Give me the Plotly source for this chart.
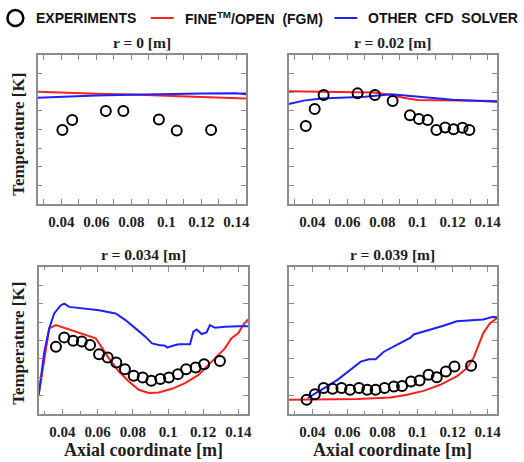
import plotly.graph_objects as go

# ---------------- data (temperature in arbitrary tick units, 8 divisions) ----------------
x_label_start = 0.04
x_label_step = 0.02
x_minor_step = 0.01
y_tick_vals = [0, 1, 2, 3, 4, 5, 6, 7, 8]

panel_titles = ["r = 0 [m]", "r = 0.02 [m]", "r = 0.034 [m]", "r = 0.039 [m]"]

# r = 0
exp0_x = [0.0406, 0.0462, 0.0654, 0.0754, 0.0957, 0.1059, 0.1255]
exp0_y = [3.97, 4.51, 4.99, 4.99, 4.54, 3.94, 3.97]
fgm0_x = [0.0265, 0.04, 0.06, 0.08, 0.10, 0.12, 0.1455]
fgm0_y = [6.03, 5.98, 5.92, 5.88, 5.80, 5.74, 5.67]
cfd0_x = [0.0265, 0.04, 0.06, 0.08, 0.10, 0.12, 0.14, 0.1455]
cfd0_y = [5.71, 5.76, 5.82, 5.86, 5.90, 5.93, 5.94, 5.89]

# r = 0.02
exp1_x = [0.0362, 0.0413, 0.0464, 0.0658, 0.0757, 0.0858, 0.0957, 0.1008, 0.1058,
          0.1108, 0.1158, 0.1206, 0.1257, 0.1296]
exp1_y = [4.19, 5.10, 5.85, 5.94, 5.85, 5.53, 4.76, 4.56, 4.51, 3.97, 4.11, 4.01, 4.10, 3.97]
fgm1_x = [0.0265, 0.04, 0.06, 0.075, 0.085, 0.092, 0.10, 0.12, 0.1455]
fgm1_y = [6.06, 6.05, 6.02, 5.99, 5.85, 5.70, 5.58, 5.55, 5.53]
cfd1_x = [0.0265, 0.035, 0.045, 0.06, 0.07, 0.085, 0.10, 0.12, 0.1455]
cfd1_y = [5.37, 5.55, 5.67, 5.72, 5.76, 5.89, 5.75, 5.60, 5.49]

# r = 0.034
exp2_x = [0.0363, 0.0410, 0.0461, 0.0510, 0.0557, 0.0608, 0.0657, 0.0706, 0.0755, 0.0805,
          0.0856, 0.0905, 0.0956, 0.1005, 0.1056, 0.1103, 0.1157, 0.1205, 0.1295]
exp2_y = [3.66, 4.17, 3.99, 3.94, 3.75, 3.25, 3.07, 2.80, 2.44, 2.08,
          1.99, 1.81, 1.90, 1.99, 2.17, 2.44, 2.53, 2.71, 2.89]
fgm2_x = [0.0265, 0.0325, 0.0363, 0.042, 0.0514, 0.0589, 0.0627, 0.0664, 0.0721, 0.0777,
          0.0834, 0.089, 0.0947, 0.1022, 0.1097, 0.1173, 0.1248, 0.1323, 0.1361, 0.1399,
          0.1427, 0.1455]
fgm2_y = [1.05, 4.66, 4.84, 4.66, 4.39, 4.12, 3.57, 3.03, 2.31, 1.77,
          1.32, 1.14, 1.17, 1.37, 1.68, 2.13, 2.85, 3.57, 4.12, 4.39,
          4.84, 5.16]
cfd2_x = [0.0265, 0.0297, 0.0325, 0.0353, 0.0391, 0.0410, 0.0438, 0.0514, 0.0608, 0.0702,
          0.0758, 0.0815, 0.0871, 0.0909, 0.0947, 0.0984, 0.0994, 0.1022, 0.1060, 0.1125,
          0.1144, 0.1163, 0.1191, 0.1219, 0.1238, 0.1267, 0.1323, 0.1399, 0.1455]
cfd2_y = [1.05, 3.39, 4.66, 5.47, 5.92, 6.01, 5.83, 5.74, 5.65, 5.47,
          5.11, 4.66, 4.21, 3.84, 3.75, 3.72, 3.61, 3.70, 3.79, 3.79,
          4.48, 4.60, 4.35, 4.44, 4.84, 4.69, 4.75, 4.78, 4.78]

# r = 0.039
exp3_x = [0.0367, 0.0414, 0.0464, 0.0515, 0.0566, 0.0615, 0.0666, 0.0713, 0.0761, 0.0812,
          0.0865, 0.0912, 0.0963, 0.1012, 0.1063, 0.1110, 0.1162, 0.1211, 0.1306]
exp3_y = [0.78, 1.08, 1.41, 1.37, 1.41, 1.32, 1.41, 1.32, 1.32, 1.41,
          1.50, 1.53, 1.77, 1.82, 2.13, 2.00, 2.31, 2.58, 2.62]
fgm3_x = [0.0265, 0.0657, 0.0846, 0.094, 0.1035, 0.113, 0.1224, 0.1281, 0.1319, 0.1347,
          0.1375, 0.1413, 0.1455]
fgm3_y = [0.78, 0.81, 0.90, 1.05, 1.26, 1.59, 2.04, 2.49, 3.03, 3.75,
          4.39, 4.93, 5.23]
cfd3_x = [0.0373, 0.0411, 0.0467, 0.0543, 0.0619, 0.0676, 0.0723, 0.0761, 0.0808, 0.0884,
          0.0960, 0.0978, 0.1073, 0.1148, 0.1224, 0.1299, 0.1375, 0.1432, 0.1455]
cfd3_y = [0.87, 1.08, 1.41, 1.86, 2.40, 2.85, 2.98, 2.98, 3.39, 3.79,
          4.15, 4.33, 4.57, 4.80, 5.05, 5.11, 5.14, 5.29, 5.25]

panels = [
    (exp0_x, exp0_y, fgm0_x, fgm0_y, cfd0_x, cfd0_y),
    (exp1_x, exp1_y, fgm1_x, fgm1_y, cfd1_x, cfd1_y),
    (exp2_x, exp2_y, fgm2_x, fgm2_y, cfd2_x, cfd2_y),
    (exp3_x, exp3_y, fgm3_x, fgm3_y, cfd3_x, cfd3_y),
]

# ---------------- styling ----------------
W, H = 524, 462
RED = "#ff1f1f"
BLUE = "#1f1fff"
FRAME = "#8c8c8c"
TXT = "#1e1e1e"
SERIF = "Liberation Serif, Times New Roman, serif"
NARROW = "Liberation Sans Narrow, Arial Narrow, Liberation Sans, sans-serif"

# plot boxes in pixels (left, right, top, bottom)
boxes = [(38, 248, 55, 204), (291, 501, 55, 204), (39, 250, 267, 414), (291, 501, 267, 414)]
minor_len = [5, 5, 3, 3]

fig = go.Figure()
layout_axes = {}
annotations = []
for i, (box, data) in enumerate(zip(boxes, panels)):
    l, r, t, b = box
    n = i + 1
    xa = "x" if n == 1 else f"x{n}"
    ya = "y" if n == 1 else f"y{n}"
    ex, ey, fx, fy, cx, cy = data
    fig.add_trace(go.Scatter(x=fx, y=fy, mode="lines", line=dict(color=RED, width=2),
                             xaxis=xa, yaxis=ya, showlegend=False))
    fig.add_trace(go.Scatter(x=cx, y=cy, mode="lines", line=dict(color=BLUE, width=2),
                             xaxis=xa, yaxis=ya, showlegend=False))
    fig.add_trace(go.Scatter(x=ex, y=ey, mode="markers",
                             marker=dict(symbol="circle-open", size=10, color="black",
                                         line=dict(width=2, color="black")),
                             xaxis=xa, yaxis=ya, showlegend=False))
    common = dict(showline=True, mirror="ticks", linecolor=FRAME, linewidth=1.5,
                  ticks="inside", tickcolor=FRAME, tickwidth=1.2,
                  showgrid=False, zeroline=False)
    layout_axes["xaxis" if n == 1 else f"xaxis{n}"] = dict(
        domain=[l / W, r / W], anchor=ya, range=[0.0265, 0.1455],
        tickmode="linear", tick0=x_label_start, dtick=x_label_step, ticklen=5,
        minor=dict(ticks="inside", tick0=x_label_start - x_minor_step, dtick=x_minor_step,
                   ticklen=minor_len[i], tickcolor=FRAME, tickwidth=1.2, showgrid=False),
        tickfont=dict(family=SERIF, size=15, color=TXT, weight="bold"),
        ticklabelstandoff=3, **common)
    layout_axes["yaxis" if n == 1 else f"yaxis{n}"] = dict(
        domain=[1 - b / H, 1 - t / H], anchor=xa, range=[0, 8],
        tickmode="array", tickvals=y_tick_vals, ticklen=5, showticklabels=False, **common)
    annotations.append(dict(text=panel_titles[i], x=(l + r) / 2 / W, y=1 - (t - 13) / H,
                            xref="paper", yref="paper", showarrow=False,
                            font=dict(family=SERIF, size=15.5, color=TXT, weight="bold"),
                            xanchor="center", yanchor="middle"))

# axis titles
for yc in [134, 343]:
    annotations.append(dict(text="Temperature [K]", x=18 / W, y=1 - yc / H, xref="paper",
                            yref="paper", showarrow=False, textangle=-90,
                            font=dict(family=SERIF, size=17, color=TXT, weight="bold"),
                            xanchor="center", yanchor="middle"))
for xc in [(39 + 250) / 2, (291 + 501) / 2]:
    annotations.append(dict(text="Axial coordinate [m]", x=xc / W, y=1 - 450 / H, xref="paper",
                            yref="paper", showarrow=False,
                            font=dict(family=SERIF, size=18, color=TXT, weight="bold"),
                            xanchor="center", yanchor="middle"))

# legend (drawn at top)
legend_font = dict(family=NARROW, size=14, color="#111", weight="bold")
ly = 1 - 18 / H
annotations += [
    dict(text="EXPERIMENTS", x=34 / W, y=ly, xref="paper", yref="paper", showarrow=False,
         xanchor="left", yanchor="middle", font=legend_font),
    dict(text="FINE<sup>TM</sup>/OPEN  (FGM)", x=184 / W, y=ly, xref="paper", yref="paper",
         showarrow=False, xanchor="left", yanchor="middle", font=legend_font),
    dict(text="OTHER  CFD  SOLVER", x=369 / W, y=ly, xref="paper", yref="paper",
         showarrow=False, xanchor="left", yanchor="middle", font=legend_font),
]
shapes = [
    dict(type="circle", xref="paper", yref="paper", x0=7.5 / W, x1=23.5 / W,
         y0=1 - 26 / H, y1=1 - 10 / H, line=dict(color="black", width=2.5)),
    dict(type="line", xref="paper", yref="paper", x0=152 / W, x1=175 / W, y0=ly, y1=ly,
         line=dict(color=RED, width=2)),
    dict(type="line", xref="paper", yref="paper", x0=337 / W, x1=360 / W, y0=ly, y1=ly,
         line=dict(color=BLUE, width=2)),
]

fig.update_layout(width=W, height=H, margin=dict(l=0, r=0, t=0, b=0),
                  paper_bgcolor="white", plot_bgcolor="white",
                  annotations=annotations, shapes=shapes, showlegend=False,
                  **layout_axes)
fig.write_html("out.html")
